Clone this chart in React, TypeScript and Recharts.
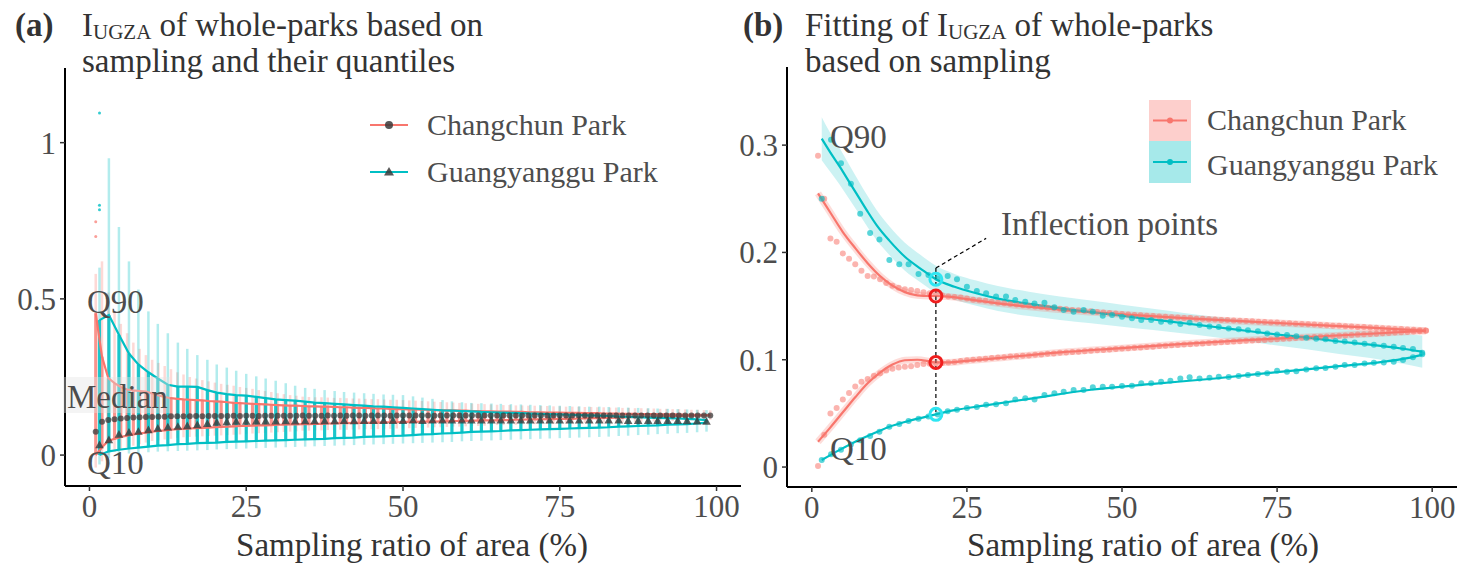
import React from "react";
import {
  ComposedChart,
  Line,
  Scatter,
  Area,
  XAxis,
  YAxis,
  ReferenceLine,
  ReferenceDot,
} from "recharts";

const RED = "#F8766D";
const CYAN = "#00BFC4";
const DARK = "#3a3a3a";
const FONT = "'Liberation Serif', 'Times New Roman', serif";

// ---------- (a) sampled I_UGZA and its quantiles ----------

// Changchun Park: sampling ratio (%)
const redX = [
  1, 2, 3, 4, 5, 6, 7, 8, 9, 10, 11, 12, 13, 14, 15, 16, 17, 18, 19, 20,
  21, 22, 23, 24, 25, 26, 27, 28, 29, 30, 31, 32, 33, 34, 35, 36, 37, 38, 39, 40,
  41, 42, 43, 44, 45, 46, 47, 48, 49, 50, 51, 52, 53, 54, 55, 56, 57, 58, 59, 60,
  61, 62, 63, 64, 65, 66, 67, 68, 69, 70, 71, 72, 73, 74, 75, 76, 77, 78, 79, 80,
  81, 82, 83, 84, 85, 86, 87, 88, 89, 90, 91, 92, 93, 94, 95, 96, 97, 98, 99,
];
const redQ90A = [
  0.454, 0.315, 0.246, 0.23, 0.218, 0.21, 0.207, 0.205, 0.203, 0.197,
  0.191, 0.186, 0.182, 0.18, 0.178, 0.177, 0.176, 0.175, 0.173, 0.172,
  0.171, 0.169, 0.167, 0.166, 0.165, 0.164, 0.163, 0.162, 0.161, 0.16,
  0.159, 0.158, 0.158, 0.157, 0.156, 0.156, 0.155, 0.155, 0.154, 0.153,
  0.153, 0.152, 0.151, 0.151, 0.15, 0.149, 0.149, 0.148, 0.147, 0.147,
  0.146, 0.146, 0.145, 0.145, 0.144, 0.144, 0.143, 0.143, 0.142, 0.142,
  0.141, 0.141, 0.14, 0.14, 0.139, 0.139, 0.139, 0.138, 0.138, 0.137,
  0.137, 0.137, 0.136, 0.136, 0.136, 0.135, 0.135, 0.135, 0.134, 0.134,
  0.134, 0.133, 0.133, 0.133, 0.132, 0.132, 0.132, 0.131, 0.131, 0.131,
  0.13, 0.13, 0.13, 0.13, 0.129, 0.129, 0.129, 0.128, 0.128,
];
const redQ10A = [
  0.0, 0.025, 0.045, 0.052, 0.058, 0.062, 0.066, 0.069, 0.072, 0.075,
  0.077, 0.079, 0.081, 0.083, 0.084, 0.085, 0.086, 0.087, 0.088, 0.089,
  0.09, 0.091, 0.092, 0.093, 0.093, 0.094, 0.095, 0.095, 0.096, 0.097,
  0.097, 0.098, 0.098, 0.099, 0.099, 0.1, 0.1, 0.101, 0.101, 0.102,
  0.102, 0.103, 0.103, 0.103, 0.104, 0.104, 0.105, 0.105, 0.105, 0.106,
  0.106, 0.106, 0.107, 0.107, 0.107, 0.108, 0.108, 0.109, 0.109, 0.109,
  0.11, 0.11, 0.111, 0.111, 0.111, 0.112, 0.112, 0.113, 0.113, 0.114,
  0.114, 0.114, 0.115, 0.115, 0.116, 0.116, 0.116, 0.117, 0.117, 0.118,
  0.118, 0.119, 0.119, 0.12, 0.12, 0.121, 0.121, 0.122, 0.122, 0.123,
  0.123, 0.124, 0.124, 0.125, 0.125, 0.126, 0.126, 0.127, 0.127,
];
const redMedA = [
  0.075, 0.107, 0.112, 0.115, 0.117, 0.119, 0.12, 0.121, 0.122, 0.122,
  0.123, 0.123, 0.124, 0.124, 0.124, 0.124, 0.125, 0.124, 0.125, 0.125,
  0.125, 0.125, 0.126, 0.125, 0.126, 0.126, 0.125, 0.126, 0.126, 0.126,
  0.126, 0.126, 0.126, 0.127, 0.126, 0.126, 0.126, 0.127, 0.126, 0.127,
  0.126, 0.127, 0.127, 0.126, 0.127, 0.127, 0.127, 0.126, 0.127, 0.127,
  0.127, 0.127, 0.127, 0.127, 0.126, 0.127, 0.127, 0.127, 0.127, 0.127,
  0.127, 0.127, 0.127, 0.127, 0.127, 0.127, 0.127, 0.127, 0.127, 0.127,
  0.127, 0.127, 0.127, 0.127, 0.127, 0.127, 0.127, 0.127, 0.127, 0.127,
  0.127, 0.127, 0.127, 0.127, 0.127, 0.127, 0.127, 0.127, 0.127, 0.127,
  0.127, 0.127, 0.127, 0.127, 0.127, 0.127, 0.127, 0.127, 0.127,
];
// extent of each sampled cloud
const redLoA = [
  -0.04, -0.02, 0.0, 0.01, 0.02, 0.025, 0.03, 0.035, 0.04, 0.045,
  0.047, 0.05, 0.052, 0.055, 0.057, 0.058, 0.059, 0.06, 0.061, 0.062,
  0.063, 0.064, 0.065, 0.066, 0.068, 0.069, 0.07, 0.071, 0.072, 0.073,
  0.074, 0.075, 0.076, 0.078, 0.078, 0.079, 0.079, 0.08, 0.08, 0.081,
  0.081, 0.082, 0.082, 0.083, 0.083, 0.083, 0.084, 0.084, 0.085, 0.085,
  0.086, 0.087, 0.087, 0.088, 0.089, 0.089, 0.09, 0.091, 0.091, 0.092,
  0.093, 0.093, 0.094, 0.095, 0.096, 0.096, 0.097, 0.097, 0.098, 0.098,
  0.099, 0.099, 0.1, 0.1, 0.101, 0.101, 0.102, 0.102, 0.103, 0.103,
  0.103, 0.104, 0.104, 0.105, 0.105, 0.106, 0.106, 0.107, 0.107, 0.108,
  0.108, 0.109, 0.109, 0.11, 0.11, 0.111, 0.112, 0.112, 0.113,
];
const redHiA = [
  0.58, 0.62, 0.52, 0.46, 0.42, 0.39, 0.36, 0.34, 0.32, 0.305,
  0.295, 0.285, 0.275, 0.265, 0.258, 0.25, 0.245, 0.24, 0.236, 0.232,
  0.228, 0.225, 0.222, 0.218, 0.215, 0.212, 0.208, 0.205, 0.202, 0.198,
  0.195, 0.192, 0.19, 0.187, 0.186, 0.185, 0.185, 0.184, 0.183, 0.183,
  0.182, 0.181, 0.181, 0.18, 0.179, 0.179, 0.178, 0.177, 0.177, 0.176,
  0.175, 0.174, 0.173, 0.172, 0.171, 0.17, 0.169, 0.168, 0.167, 0.166,
  0.165, 0.164, 0.163, 0.162, 0.161, 0.16, 0.16, 0.159, 0.159, 0.158,
  0.158, 0.157, 0.157, 0.156, 0.156, 0.155, 0.155, 0.155, 0.154, 0.154,
  0.153, 0.153, 0.152, 0.152, 0.151, 0.151, 0.15, 0.15, 0.149, 0.149,
  0.148, 0.148, 0.147, 0.147, 0.146, 0.145, 0.145, 0.144, 0.143,
];
const redOutliers = [
  { x: 1, y: 0.747 },
  { x: 1, y: 0.7 },
];

// Guangyanggu Park: sampling ratio (%)
const cyanX = [
  1.6, 3.1, 4.7, 6.3, 7.8, 9.4, 10.9, 12.5, 14.1, 15.6, 17.2, 18.8, 20.3, 21.9, 23.4, 25.0,
  26.6, 28.1, 29.7, 31.3, 32.8, 34.4, 35.9, 37.5, 39.1, 40.6, 42.2, 43.8, 45.3, 46.9, 48.4, 50.0,
  51.6, 53.1, 54.7, 56.3, 57.8, 59.4, 60.9, 62.5, 64.1, 65.6, 67.2, 68.8, 70.3, 71.9, 73.4, 75.0,
  76.6, 78.1, 79.7, 81.3, 82.8, 84.4, 85.9, 87.5, 89.1, 90.6, 92.2, 93.8, 95.3, 96.9, 98.4,
];
const cyanQ90A = [
  0.432, 0.448, 0.385, 0.325, 0.29, 0.265, 0.245, 0.225, 0.219, 0.219, 0.218, 0.208, 0.2, 0.195, 0.192, 0.19,
  0.186, 0.182, 0.178, 0.176, 0.174, 0.171, 0.168, 0.166, 0.164, 0.162, 0.16, 0.158, 0.156, 0.155, 0.153, 0.151,
  0.149, 0.147, 0.145, 0.143, 0.142, 0.141, 0.14, 0.138, 0.137, 0.136, 0.135, 0.134, 0.133, 0.132, 0.131, 0.13,
  0.129, 0.128, 0.127, 0.126, 0.125, 0.123, 0.122, 0.121, 0.12, 0.119, 0.118, 0.117, 0.116, 0.114, 0.112,
];
const cyanQ10A = [
  0.0, 0.012, 0.017, 0.021, 0.024, 0.027, 0.03, 0.032, 0.035, 0.036, 0.038, 0.039, 0.04, 0.042, 0.043, 0.044,
  0.045, 0.046, 0.047, 0.048, 0.049, 0.05, 0.051, 0.052, 0.054, 0.055, 0.056, 0.058, 0.059, 0.06, 0.061, 0.062,
  0.064, 0.066, 0.067, 0.069, 0.07, 0.072, 0.074, 0.075, 0.076, 0.077, 0.079, 0.08, 0.081, 0.082, 0.083, 0.084,
  0.085, 0.086, 0.087, 0.088, 0.089, 0.091, 0.092, 0.093, 0.094, 0.095, 0.097, 0.098, 0.099, 0.101, 0.104,
];
const cyanMedA = [
  0.032, 0.048, 0.066, 0.072, 0.075, 0.08, 0.085, 0.089, 0.091, 0.093, 0.096, 0.1, 0.104, 0.106, 0.107, 0.107,
  0.108, 0.108, 0.108, 0.109, 0.108, 0.109, 0.109, 0.109, 0.109, 0.11, 0.109, 0.11, 0.11, 0.11, 0.11, 0.11,
  0.111, 0.11, 0.111, 0.111, 0.111, 0.111, 0.111, 0.111, 0.111, 0.111, 0.111, 0.111, 0.111, 0.111, 0.111, 0.111,
  0.111, 0.111, 0.111, 0.111, 0.111, 0.111, 0.11, 0.11, 0.11, 0.11, 0.11, 0.11, 0.109, 0.108, 0.107,
];
const cyanLoA = [
  -0.03, -0.01, 0.0, 0.005, 0.007, 0.009, 0.011, 0.012, 0.013, 0.014, 0.015, 0.016, 0.018, 0.019, 0.02, 0.021,
  0.022, 0.023, 0.024, 0.025, 0.026, 0.027, 0.028, 0.029, 0.03, 0.031, 0.032, 0.033, 0.034, 0.035, 0.036, 0.037,
  0.038, 0.039, 0.04, 0.041, 0.042, 0.044, 0.045, 0.046, 0.047, 0.048, 0.049, 0.05, 0.051, 0.052, 0.053, 0.054,
  0.055, 0.056, 0.057, 0.058, 0.059, 0.061, 0.062, 0.064, 0.065, 0.067, 0.068, 0.07, 0.071, 0.073, 0.075,
];
const cyanHiA = [
  0.6, 0.95, 0.73, 0.62, 0.53, 0.46, 0.42, 0.39, 0.36, 0.34, 0.32, 0.305, 0.29, 0.28, 0.27, 0.26,
  0.252, 0.245, 0.238, 0.23, 0.222, 0.215, 0.212, 0.208, 0.205, 0.202, 0.2, 0.198, 0.196, 0.194, 0.193, 0.192,
  0.188, 0.184, 0.18, 0.176, 0.172, 0.169, 0.167, 0.166, 0.165, 0.164, 0.163, 0.162, 0.161, 0.16, 0.159, 0.158,
  0.157, 0.156, 0.155, 0.155, 0.154, 0.153, 0.152, 0.151, 0.15, 0.149, 0.148, 0.147, 0.146, 0.145, 0.144,
];
const cyanOutliers = [
  { x: 1.6, y: 1.095 },
  { x: 1.6, y: 0.8 },
  { x: 1.6, y: 0.785 },
];

// ---------- (b) Q90 / Q10 of sampling and their fits ----------

const redQ90B = [
  0.29, 0.25, 0.213, 0.21, 0.199, 0.194, 0.189, 0.183, 0.178, 0.1775,
  0.175, 0.1715, 0.169, 0.167, 0.1658, 0.165, 0.164, 0.163, 0.162, 0.161,
  0.16, 0.159, 0.1585, 0.158, 0.157, 0.156, 0.1555, 0.155, 0.154, 0.1532,
  0.1527, 0.1519, 0.1515, 0.1507, 0.1503, 0.1496, 0.1492, 0.1485, 0.1481, 0.1474,
  0.1471, 0.1464, 0.1461, 0.1454, 0.1451, 0.1444, 0.1441, 0.1435, 0.1431, 0.1426,
  0.1422, 0.1417, 0.1415, 0.141, 0.1408, 0.1403, 0.1401, 0.1396, 0.1394, 0.139,
  0.1388, 0.1383, 0.1382, 0.1377, 0.1376, 0.1371, 0.137, 0.1365, 0.1364, 0.136,
  0.1358, 0.1353, 0.1352, 0.1347, 0.1346, 0.1341, 0.134, 0.1335, 0.1334, 0.133,
  0.1328, 0.1323, 0.1322, 0.1317, 0.1316, 0.1311, 0.131, 0.1305, 0.1304, 0.13,
  0.1298, 0.1293, 0.1292, 0.1287, 0.1286, 0.1281, 0.128, 0.1275, 0.1272,
];
const redQ10B = [
  0.001, 0.03, 0.05, 0.055, 0.063, 0.069, 0.075, 0.0795, 0.082, 0.085,
  0.0875, 0.09, 0.0915, 0.0928, 0.0935, 0.094, 0.095, 0.096, 0.0962, 0.0968,
  0.097, 0.0975, 0.098, 0.0988, 0.0995, 0.1, 0.1005, 0.101, 0.1015, 0.102,
  0.1024, 0.1029, 0.1032, 0.1037, 0.104, 0.1046, 0.1049, 0.1055, 0.1058, 0.1064,
  0.1067, 0.1072, 0.1075, 0.108, 0.1083, 0.1088, 0.1091, 0.1096, 0.1099, 0.1105,
  0.1108, 0.1112, 0.1115, 0.1119, 0.1122, 0.1127, 0.113, 0.1134, 0.1137, 0.1142,
  0.1145, 0.1148, 0.1151, 0.1155, 0.1158, 0.1162, 0.1165, 0.1169, 0.1172, 0.1176,
  0.1179, 0.1182, 0.1185, 0.1189, 0.1192, 0.1195, 0.1198, 0.1202, 0.1205, 0.1208,
  0.1211, 0.1214, 0.1217, 0.1221, 0.1224, 0.1227, 0.123, 0.1234, 0.1237, 0.124,
  0.1243, 0.1246, 0.1249, 0.1253, 0.1256, 0.1259, 0.1262, 0.1266, 0.1269,
];
const cyanQ90B = [
  0.25, 0.305, 0.283, 0.264, 0.236, 0.218, 0.212, 0.193, 0.189, 0.189, 0.18, 0.179, 0.176, 0.178, 0.175, 0.168,
  0.164, 0.162, 0.159, 0.159, 0.1556, 0.154, 0.1525, 0.153, 0.1488, 0.1463, 0.1448, 0.1463, 0.1448, 0.141, 0.1417, 0.14,
  0.1386, 0.137, 0.137, 0.1354, 0.1354, 0.1333, 0.1345, 0.1323, 0.131, 0.1305, 0.129, 0.1285, 0.1275, 0.1265, 0.1245, 0.1235,
  0.123, 0.122, 0.1205, 0.1195, 0.119, 0.1175, 0.117, 0.116, 0.115, 0.114, 0.113, 0.112, 0.111, 0.11, 0.1065,
];
const cyanQ10B = [
  0.0065, 0.012, 0.016, 0.021, 0.025, 0.029, 0.033, 0.0375, 0.04, 0.043, 0.045, 0.047, 0.049, 0.052, 0.0535, 0.055,
  0.056, 0.058, 0.0585, 0.0594, 0.063, 0.064, 0.063, 0.0671, 0.0687, 0.0702, 0.0718, 0.0718, 0.0743, 0.0749, 0.0749, 0.0755,
  0.0757, 0.078, 0.078, 0.0795, 0.0804, 0.0826, 0.0836, 0.0826, 0.0832, 0.0842, 0.0838, 0.0848, 0.0857, 0.0867, 0.0873, 0.0898,
  0.0888, 0.0892, 0.091, 0.092, 0.0922, 0.0935, 0.095, 0.0952, 0.0966, 0.0972, 0.0975, 0.0981, 0.0997, 0.1022, 0.105,
];

// fitted curves
const redFitX = [1, 3, 5, 7, 9, 11, 13, 15, 17, 19, 20, 22, 25, 30, 40, 50, 60, 70, 80, 90, 99];
const redQ90Fit = [
  0.255, 0.237, 0.219, 0.204, 0.19, 0.178, 0.169, 0.163, 0.16, 0.1594, 0.1594,
  0.1588, 0.1565, 0.1525, 0.1467, 0.1422, 0.1387, 0.1357, 0.1328, 0.1299, 0.127,
];
const redQ10Fit = [
  0.0236, 0.037, 0.051, 0.065, 0.078, 0.088, 0.0955, 0.0995, 0.1, 0.0985, 0.0975,
  0.0975, 0.099, 0.1015, 0.1068, 0.1108, 0.1148, 0.1182, 0.1212, 0.1242, 0.127,
];
const cyanQ90FitX = [
  1.6, 3, 4.5, 6, 7.5, 9, 10.5, 12.5, 15, 17.5, 20, 23, 26.5, 30,
  35, 40, 45, 50, 55, 60, 65, 70, 75, 80, 85, 90, 95, 98.4,
];
const cyanQ90Fit = [
  0.306, 0.293, 0.28, 0.266, 0.252, 0.238, 0.225, 0.211, 0.196, 0.185, 0.175, 0.168, 0.162, 0.157,
  0.152, 0.148, 0.1445, 0.141, 0.1375, 0.134, 0.1305, 0.127, 0.1235, 0.1205, 0.117, 0.114, 0.1105, 0.1075,
];
const cyanQ90Lo = [
  0.286, 0.275, 0.263, 0.25, 0.237, 0.2235, 0.211, 0.1975, 0.183, 0.1722, 0.1625, 0.156, 0.1502, 0.1453,
  0.1407, 0.137, 0.1339, 0.1307, 0.1276, 0.1244, 0.121, 0.1172, 0.1132, 0.1095, 0.1053, 0.1015, 0.0965, 0.0925,
];
const cyanQ90Hi = [
  0.326, 0.311, 0.297, 0.282, 0.267, 0.2525, 0.239, 0.2245, 0.209, 0.1978, 0.1875, 0.18, 0.1738, 0.1687,
  0.1633, 0.159, 0.1551, 0.1513, 0.1474, 0.1436, 0.14, 0.1368, 0.1338, 0.1315, 0.1287, 0.1265, 0.1245, 0.1225,
];
const cyanQ10FitX = [1.6, 4.5, 7, 10, 12.5, 15, 20, 23, 28, 35, 45, 55, 65, 75, 85, 92, 96, 98.4];
const cyanQ10Fit = [
  0.0065, 0.016, 0.0236, 0.0314, 0.0376, 0.042, 0.0491, 0.053, 0.0575,
  0.0635, 0.072, 0.0775, 0.0825, 0.0885, 0.094, 0.098, 0.1015, 0.1045,
];

const INFLECTION = 20;

// ---------- helpers ----------

const rows = (xs: number[], ys: number[]) => xs.map((x, i) => ({ x, y: ys[i] }));

const atFit = (xs: number[], ys: number[], x: number) => ys[xs.indexOf(x)];

const Dot = (color: string, r: number, opacity: number) => (p: any) =>
  <circle cx={p.cx} cy={p.cy} r={r} fill={color} fillOpacity={opacity} />;

const Tri = (p: any) => (
  <path
    d={`M${p.cx},${p.cy - 4.5}L${p.cx + 4.3},${p.cy + 3.2}L${p.cx - 4.3},${p.cy + 3.2}Z`}
    fill={DARK}
    fillOpacity={0.8}
  />
);

// vertical cloud of samples at each ratio, from lo to hi
const strands = (name: string, xs: number[], lo: number[], hi: number[], stroke: string, width: number) =>
  xs.map((x, i) => (
    <ReferenceLine
      key={`${name}-${i}`}
      segment={[{ x, y: lo[i] }, { x, y: hi[i] }]}
      stroke={stroke}
      strokeWidth={width}
      ifOverflow="visible"
    />
  ));

const axisProps = {
  axisLine: { stroke: "#000", strokeWidth: 2 },
  tickLine: { stroke: "#333", strokeWidth: 1.5 },
  tickSize: 5,
  tickMargin: 4,
  tick: { fill: "#4d4d4d", fontSize: 31, fontFamily: FONT },
};

// ---------- panel (a) ----------

function PanelA() {
  return (
    <ComposedChart width={760} height={566} margin={{ top: 68, right: 19, bottom: 0, left: 0 }}>
      <XAxis
        type="number"
        dataKey="x"
        domain={[-3.9, 103.9]}
        ticks={[0, 25, 50, 75, 100]}
        allowDataOverflow
        height={80}
        {...axisProps}
      />
      <YAxis
        type="number"
        dataKey="y"
        domain={[-0.099, 1.239]}
        ticks={[0, 0.5, 1]}
        allowDataOverflow
        width={65}
        {...axisProps}
      />

      {strands("ro", redX, redLoA, redHiA, "rgba(248,118,109,0.28)", 2.5)}
      {strands("ri", redX, redQ10A, redQ90A, "rgba(248,118,109,0.7)", 3.2)}
      {strands("co", cyanX, cyanLoA, cyanHiA, "rgba(0,191,196,0.3)", 2.5)}
      {strands("ci", cyanX, cyanQ10A, cyanQ90A, "rgba(0,191,196,0.85)", 3.2)}
      <Scatter data={redOutliers} shape={Dot(RED, 1.5, 0.7)} isAnimationActive={false} />
      <Scatter data={cyanOutliers} shape={Dot(CYAN, 1.5, 0.8)} isAnimationActive={false} />

      <Line data={rows(redX, redQ90A)} dataKey="y" stroke={RED} strokeWidth={2.2} dot={false} isAnimationActive={false} />
      <Line data={rows(redX, redQ10A)} dataKey="y" stroke={RED} strokeWidth={2.2} dot={false} isAnimationActive={false} />
      <Line data={rows(cyanX, cyanQ90A)} dataKey="y" stroke={CYAN} strokeWidth={2.2} dot={false} isAnimationActive={false} />
      <Line data={rows(cyanX, cyanQ10A)} dataKey="y" stroke={CYAN} strokeWidth={2.2} dot={false} isAnimationActive={false} />

      <Scatter data={rows(redX, redMedA)} shape={Dot(DARK, 3, 0.75)} isAnimationActive={false} />
      <Scatter data={rows(cyanX, cyanMedA)} shape={Tri} isAnimationActive={false} />
    </ComposedChart>
  );
}

// ---------- panel (b) ----------

function PanelB() {
  const band = cyanQ90FitX.map((x, i) => ({ x, band: [cyanQ90Lo[i], cyanQ90Hi[i]] }));
  const ringR = 6;
  const ringW = 3;
  const cyanTop = atFit(cyanQ90FitX, cyanQ90Fit, INFLECTION);
  const cyanBottom = atFit(cyanQ10FitX, cyanQ10Fit, INFLECTION);
  return (
    <ComposedChart
      width={736}
      height={566}
      data={band}
      margin={{ top: 67, right: 9, bottom: 0, left: 0 }}
    >
      <XAxis
        type="number"
        dataKey="x"
        domain={[-4, 104]}
        ticks={[0, 25, 50, 75, 100]}
        allowDataOverflow
        height={79}
        {...axisProps}
      />
      <YAxis
        type="number"
        dataKey="y"
        domain={[-0.0186, 0.3728]}
        ticks={[0, 0.1, 0.2, 0.3]}
        allowDataOverflow
        width={57}
        {...axisProps}
      />

      <Area dataKey="band" type="monotone" fill={CYAN} fillOpacity={0.2} stroke="none" isAnimationActive={false} />

      <Line data={rows(redFitX, redQ90Fit)} dataKey="y" type="monotone" stroke={RED} strokeOpacity={0.25} strokeWidth={7} dot={false} isAnimationActive={false} />
      <Line data={rows(redFitX, redQ10Fit)} dataKey="y" type="monotone" stroke={RED} strokeOpacity={0.25} strokeWidth={7} dot={false} isAnimationActive={false} />

      <Scatter data={rows(redX, redQ90B)} shape={Dot(RED, 3, 0.55)} isAnimationActive={false} />
      <Scatter data={rows(redX, redQ10B)} shape={Dot(RED, 3, 0.55)} isAnimationActive={false} />
      <Scatter data={rows(cyanX, cyanQ90B)} shape={Dot(CYAN, 3, 0.65)} isAnimationActive={false} />
      <Scatter data={rows(cyanX, cyanQ10B)} shape={Dot(CYAN, 3, 0.65)} isAnimationActive={false} />

      <Line data={rows(redFitX, redQ90Fit)} dataKey="y" type="monotone" stroke={RED} strokeWidth={2.2} dot={false} isAnimationActive={false} />
      <Line data={rows(redFitX, redQ10Fit)} dataKey="y" type="monotone" stroke={RED} strokeWidth={2.2} dot={false} isAnimationActive={false} />
      <Line data={rows(cyanQ90FitX, cyanQ90Fit)} dataKey="y" type="monotone" stroke={CYAN} strokeWidth={2.2} dot={false} isAnimationActive={false} />
      <Line data={rows(cyanQ10FitX, cyanQ10Fit)} dataKey="y" type="monotone" stroke={CYAN} strokeWidth={2.2} dot={false} isAnimationActive={false} />

      {/* leader to the "Inflection points" note and the drop line through all four */}
      <ReferenceLine
        segment={[{ x: INFLECTION, y: cyanTop + 0.0105 }, { x: 28.1, y: 0.2131 }]}
        stroke="#000"
        strokeWidth={1.2}
        strokeDasharray="4 3"
        ifOverflow="visible"
      />
      <ReferenceLine
        segment={[{ x: INFLECTION, y: cyanTop + 0.0105 }, { x: INFLECTION, y: cyanBottom }]}
        stroke="#000"
        strokeWidth={1.2}
        strokeDasharray="4 3"
        ifOverflow="visible"
      />

      <ReferenceDot x={INFLECTION} y={cyanTop} r={ringR} fill="none" stroke="#2EE6F2" strokeWidth={ringW} ifOverflow="visible" />
      <ReferenceDot x={INFLECTION} y={atFit(redFitX, redQ90Fit, INFLECTION)} r={ringR} fill="none" stroke="#F01E1E" strokeWidth={ringW} ifOverflow="visible" />
      <ReferenceDot x={INFLECTION} y={atFit(redFitX, redQ10Fit, INFLECTION)} r={ringR} fill="none" stroke="#F01E1E" strokeWidth={ringW} ifOverflow="visible" />
      <ReferenceDot x={INFLECTION} y={cyanBottom} r={ringR} fill="none" stroke="#2EE6F2" strokeWidth={ringW} ifOverflow="visible" />
    </ComposedChart>
  );
}

// ---------- titles, legends and notes ----------

function Overlay() {
  const title = { fontSize: 33, fill: "#333", fontFamily: FONT };
  const note = { fontSize: 33, fill: "#4d4d4d", fontFamily: FONT };
  const legendText = { fontSize: 30, fill: "#4d4d4d", fontFamily: FONT };
  return (
    <svg
      width={1466}
      height={566}
      style={{ position: "absolute", left: 0, top: 0, pointerEvents: "none" }}
    >
      {/* panel titles */}
      <text x={15} y={35.5} {...title} fontWeight="bold">(a)</text>
      <text x={82} y={35.5} {...title}>
        I<tspan fontSize={21} dy={3}>UGZA</tspan>
        <tspan dy={-3}> of whole-parks based on</tspan>
      </text>
      <text x={82} y={71.5} {...title}>sampling and their quantiles</text>

      <text x={743} y={35.5} {...title} fontWeight="bold">(b)</text>
      <text x={805} y={35.5} {...title}>
        Fitting of I<tspan fontSize={21} dy={3}>UGZA</tspan>
        <tspan dy={-3}> of whole-parks</tspan>
      </text>
      <text x={805} y={71.5} {...title}>based on sampling</text>

      {/* axis titles */}
      <text x={412} y={556} textAnchor="middle" {...title}>Sampling ratio of area (%)</text>
      <text x={1143} y={556} textAnchor="middle" {...title}>Sampling ratio of area (%)</text>

      {/* panel (a) notes */}
      <text x={87} y={313} {...note}>Q90</text>
      <rect x={63} y={377} width={107} height={36} fill="#e4e4e4" fillOpacity={0.4} />
      <text x={67} y={408} {...note}>Median</text>
      <text x={87} y={474} {...note}>Q10</text>

      {/* panel (a) legend */}
      <line x1={370} x2={408} y1={125} y2={125} stroke={RED} strokeWidth={2.2} />
      <circle cx={389} cy={125} r={4} fill={DARK} fillOpacity={0.85} />
      <text x={427} y={135} {...legendText}>Changchun Park</text>
      <line x1={370} x2={408} y1={172} y2={172} stroke={CYAN} strokeWidth={2.2} />
      <path d="M389,167L394,175.5L384,175.5Z" fill={DARK} fillOpacity={0.85} />
      <text x={427} y={182} {...legendText}>Guangyanggu Park</text>

      {/* panel (b) notes */}
      <text x={830} y={148} {...note}>Q90</text>
      <text x={830} y={460} {...note}>Q10</text>
      <text x={1001} y={235} {...note}>Inflection points</text>

      {/* panel (b) legend */}
      <rect x={1149} y={100} width={42} height={41} fill={RED} fillOpacity={0.35} />
      <rect x={1149} y={141} width={42} height={42} fill={CYAN} fillOpacity={0.35} />
      <line x1={1153} x2={1187} y1={120.5} y2={120.5} stroke={RED} strokeWidth={2.2} />
      <circle cx={1170} cy={120.5} r={3} fill={RED} />
      <line x1={1153} x2={1187} y1={162} y2={162} stroke={CYAN} strokeWidth={2.2} />
      <circle cx={1170} cy={162} r={3} fill={CYAN} />
      <text x={1207} y={129.5} {...legendText}>Changchun Park</text>
      <text x={1207} y={175} {...legendText}>Guangyanggu Park</text>
    </svg>
  );
}

export default function App() {
  return (
    <div
      style={{
        position: "absolute",
        left: 0,
        top: 0,
        width: 1466,
        height: 566,
        background: "#fff",
        fontFamily: FONT,
        overflow: "hidden",
      }}
    >
      <div style={{ position: "absolute", left: 0, top: 0 }}>
        <PanelA />
      </div>
      <div style={{ position: "absolute", left: 730, top: 0 }}>
        <PanelB />
      </div>
      <Overlay />
    </div>
  );
}
